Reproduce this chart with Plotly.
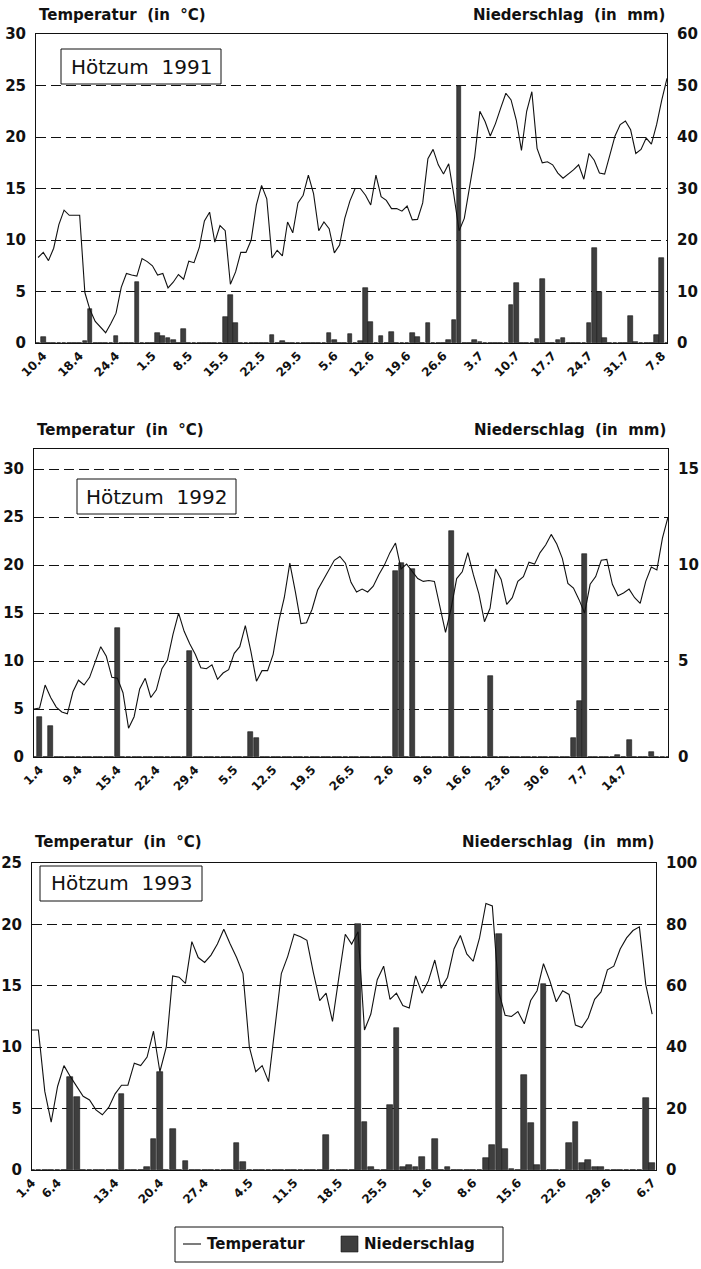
import plotly.graph_objects as go

# ---------------- data ----------------
ticks91 = ["10.4", "18.4", "24.4", "1.5", "8.5", "15.5", "22.5", "29.5", "5.6",
           "12.6", "19.6", "26.6", "3.7", "10.7", "17.7", "24.7", "31.7", "7.8"]
ticks92 = ["1.4", "9.4", "15.4", "22.4", "29.4", "5.5", "12.5", "19.5", "26.5",
           "2.6", "9.6", "16.6", "23.6", "30.6", "7.7", "14.7"]
ticks93 = ["1.4", "6.4", "13.4", "20.4", "27.4", "4.5", "11.5", "18.5", "25.5",
           "1.6", "8.6", "15.6", "22.6", "29.6", "6.7"]

# day index of each tick label
tickpos91 = [1, 8, 15, 22, 29, 36, 43, 50, 57, 64, 71, 78, 85, 92, 99, 106, 113, 120]
tickpos92 = [1, 8, 15, 22, 29, 36, 43, 50, 57, 64, 71, 78, 85, 92, 99, 106]
tickpos93 = [0, 4, 13, 20, 27, 34, 41, 48, 55, 62, 69, 76, 83, 90, 97]

# daily mean temperature (°C)
temp91 = [8.3, 8.8, 8.0, 9.2, 11.5, 12.9, 12.4, 12.4, 12.4, 4.9,
          3.2, 2.1, 1.5, 1.0, 1.9, 2.9, 5.4, 6.75, 6.6, 6.5,
          8.2, 7.9, 7.5, 6.6, 6.75, 5.35, 5.9, 6.65, 6.2, 7.95,
          7.8, 9.25, 11.85, 12.7, 9.8, 11.4, 10.9, 5.7, 6.9, 8.8,
          8.8, 10.0, 13.4, 15.3, 14.0, 8.25, 9.0, 8.45, 11.75, 10.7,
          13.6, 14.35, 16.3, 14.5, 10.9, 11.75, 11.1, 8.75, 9.5, 12.1,
          13.8, 15.0, 15.0, 14.35, 13.4, 16.3, 14.2, 13.85, 13.05, 13.05,
          12.8, 13.3, 11.95, 12.0, 13.6, 17.9, 18.8, 17.3, 16.4, 17.4,
          14.35, 10.9, 12.1, 15.3, 18.1, 22.5, 21.5, 20.1, 21.3, 22.8,
          24.25, 23.6, 21.65, 18.7, 22.5, 24.4, 18.9, 17.5, 17.6, 17.3,
          16.5, 16.0, 16.4, 16.8, 17.3, 15.9, 18.4, 17.75, 16.5, 16.4,
          18.25, 20.1, 21.2, 21.55, 20.7, 18.4, 18.8, 19.9, 19.3, 21.2,
          23.6, 25.7]
temp92 = [5.0, 5.1, 7.5, 6.2, 5.2, 4.7, 4.5, 6.8, 8.0, 7.5,
          8.3, 10.0, 11.5, 10.5, 8.3, 8.2, 6.7, 3.0, 4.2, 7.1,
          8.2, 6.2, 7.0, 9.2, 10.1, 12.8, 15.0, 13.1, 11.8, 10.7,
          9.3, 9.2, 9.6, 8.1, 8.75, 9.1, 10.8, 11.5, 13.7, 11.0,
          7.9, 9.0, 9.0, 10.7, 14.1, 16.6, 20.2, 17.2, 13.9, 14.0,
          15.4, 17.4, 18.4, 19.5, 20.5, 20.9, 20.2, 18.2, 17.2, 17.5,
          17.2, 17.8, 19.0, 20.0, 21.3, 22.3, 19.6, 20.1, 19.4, 18.6,
          18.3, 18.4, 18.3, 15.8, 13.0, 15.5, 18.6, 19.3, 21.3, 19.0,
          17.0, 14.1, 15.5, 19.6, 18.5, 15.9, 16.6, 18.3, 18.8, 20.3,
          20.1, 21.3, 22.1, 23.2, 22.2, 20.7, 18.1, 17.6, 16.4, 15.0,
          18.0, 18.8, 20.5, 20.6, 18.0, 16.8, 17.1, 17.5, 16.6, 16.0,
          18.3, 19.8, 19.5, 22.8, 25.0]
temp93 = [11.4, 11.4, 6.4, 3.9, 6.8, 8.5, 7.6, 6.8, 6.0, 5.7,
          4.9, 4.5, 5.1, 6.2, 6.9, 6.9, 8.7, 8.5, 9.2, 11.3,
          8.0, 10.0, 15.8, 15.7, 15.2, 18.6, 17.3, 16.9, 17.5, 18.4,
          19.6, 18.4, 17.3, 16.0, 10.0, 8.0, 8.5, 7.2, 11.4, 16.0,
          17.4, 19.2, 19.0, 18.7, 16.1, 13.8, 14.4, 12.1, 15.7, 19.2,
          18.4, 19.4, 11.4, 12.7, 15.5, 16.6, 13.9, 14.4, 13.4, 13.2,
          15.8, 14.4, 15.4, 17.1, 14.8, 15.7, 18.0, 19.1, 17.6, 17.0,
          18.9, 21.7, 21.5, 14.5, 12.6, 12.5, 12.9, 11.9, 13.8, 14.6,
          16.8, 15.4, 13.7, 14.6, 14.3, 11.8, 11.6, 12.4, 13.9, 14.5,
          16.3, 16.6, 18.0, 18.9, 19.5, 19.8, 15.1, 12.7]

# daily precipitation (mm)
rain91 = [0, 1.1, 0, 0, 0, 0, 0, 0, 0, 0.3,
          6.7, 0, 0, 0, 0, 1.4, 0, 0, 0, 11.9,
          0, 0, 0, 1.9, 1.3, 0.9, 0.5, 0, 2.75, 0,
          0, 0, 0, 0, 0, 0, 5.1, 9.35, 3.9, 0,
          0, 0, 0, 0, 0, 1.55, 0, 0.45, 0, 0,
          0, 0, 0, 0, 0, 0, 1.95, 0.65, 0, 0,
          1.7, 0, 0.45, 10.7, 4.0, 0, 1.4, 0, 2.1, 0,
          0, 0, 1.9, 1.1, 0, 3.9, 0, 0, 0, 0.6,
          4.5, 50.0, 0, 0, 0.6, 0.25, 0, 0, 0, 0,
          0, 7.3, 11.7, 0, 0, 0, 0.8, 12.5, 0, 0,
          0.6, 1.0, 0, 0, 0, 0, 3.8, 18.5, 10.0, 0.9,
          0, 0, 0, 0, 5.3, 0.1, 0, 0, 0, 1.55,
          16.6, 0]
rain92 = [0, 2.1, 0, 1.6, 0, 0, 0, 0, 0, 0,
          0, 0, 0, 0, 0, 6.7, 0, 0, 0, 0,
          0, 0, 0, 0, 0, 0, 0, 0, 5.5, 0,
          0, 0, 0, 0, 0, 0, 0, 0, 0, 1.3,
          1.0, 0, 0, 0, 0, 0, 0, 0, 0, 0,
          0, 0, 0, 0, 0, 0, 0, 0, 0, 0,
          0, 0, 0, 0, 0, 9.7, 10.1, 0, 9.8, 0,
          0, 0, 0, 0, 0, 11.8, 0, 0, 0, 0,
          0, 0, 4.2, 0, 0, 0, 0, 0, 0, 0,
          0, 0, 0, 0, 0, 0, 0, 1.0, 2.9, 10.6,
          0, 0, 0, 0, 0, 0.12, 0, 0.9, 0, 0,
          0, 0.25, 0, 0, 0]
rain93 = [0, 0, 0, 0, 0, 0, 30.2, 23.9, 0, 0,
          0, 0, 0, 0, 24.9, 0, 0, 0, 1.1, 10.0,
          31.8, 0, 13.2, 0, 3.0, 0, 0, 0, 0, 0,
          0, 0, 8.7, 2.7, 0, 0, 0, 0, 0, 0,
          0, 0, 0, 0, 0, 0, 11.4, 0, 0, 0,
          0, 80.0, 15.7, 0.9, 0, 0, 21.1, 46.1, 1.1, 1.6,
          1.1, 4.1, 0, 10.0, 0, 1.1, 0, 0, 0, 0,
          0, 3.8, 8.1, 77.0, 7.0, 0.2, 0, 30.9, 15.2, 1.6,
          60.7, 0, 0, 0, 8.7, 15.7, 2.2, 3.3, 1.1, 1.1,
          0, 0, 0, 0, 0, 0, 23.6, 2.2]

# ---------------- layout helpers ----------------
W, H = 701, 1269
SANS = "DejaVu Sans, Verdana, sans-serif"
INK = "#111111"
BAR = "#3e3e3e"
SP = "\u00a0\u00a0"   # wide word gap as in the printed figure


def px_x(v):
    return v / W


def px_y(v):
    return 1 - v / H


panels = [
    dict(year="1991", t=temp91, r=rain91, ticks=ticks91, pos=tickpos91,
         xr=[-0.4, 121], tr=[0, 30], rr=[0, 60], rd=10,
         box=(36, 667, 34, 343), title_y=15, label=(61, 221, 49, 84)),
    dict(year="1992", t=temp92, r=rain92, ticks=ticks92, pos=tickpos92,
         xr=[0, 114], tr=[0, 32.1], rr=[0, 16.05], rd=5,
         box=(34, 668, 449, 757), title_y=430, label=(77, 236, 479, 514)),
    dict(year="1993", t=temp93, r=rain93, ticks=ticks93, pos=tickpos93,
         xr=[0, 97.6], tr=[0, 25], rr=[0, 100], rd=20,
         box=(32, 656, 863, 1170), title_y=842, label=(40, 202, 866, 901)),
]

fig = go.Figure()
layout = dict(
    template="none",
    width=W, height=H, autosize=False,
    margin=dict(l=0, r=0, t=0, b=0, pad=0),
    paper_bgcolor="white", plot_bgcolor="white",
    font=dict(family=SANS, color=INK),
    bargap=0, barmode="overlay", showlegend=False,
    annotations=[], shapes=[],
)

xtick_font = dict(family=SANS, size=12, color=INK, weight="bold")
ytick_font = dict(family=SANS, size=15, color=INK, weight="bold")
title_font = dict(family=SANS, size=15, color=INK, weight="bold")

for k, p in enumerate(panels):
    n = k + 1
    xa = "x" if n == 1 else f"x{n}"
    ya_r = "y" if n == 1 else f"y{2 * n - 1}"     # precipitation (right)
    ya_t = f"y{2 * n}"                             # temperature (left, overlay)
    left, right, top, bottom = p["box"]

    fig.add_trace(go.Bar(
        x=list(range(len(p["r"]))), y=p["r"], xaxis=xa, yaxis=ya_r,
        width=0.9, marker=dict(color=BAR, line=dict(color="#151515", width=0.6)),
        name="Niederschlag"))
    fig.add_trace(go.Scatter(
        x=list(range(len(p["t"]))), y=p["t"], xaxis=xa, yaxis=ya_t, mode="lines",
        line=dict(color=INK, width=1.1), name="Temperatur"))

    xkey = "xaxis" if n == 1 else f"xaxis{n}"
    yrkey = "yaxis" if n == 1 else f"yaxis{2 * n - 1}"
    ytkey = f"yaxis{2 * n}"

    layout[xkey] = dict(
        domain=[px_x(left), px_x(right)], anchor=ya_r, range=p["xr"], automargin=False,
        tickmode="array", tickvals=p["pos"], ticktext=p["ticks"], tickangle=-45,
        tickfont=xtick_font, ticks="", showgrid=False, zeroline=False,
        showline=True, linecolor=INK, linewidth=1, mirror=True)
    layout[yrkey] = dict(
        domain=[px_y(bottom), px_y(top)], anchor=xa, side="right", automargin=False,
        range=p["rr"], dtick=p["rd"], tick0=0, tickfont=ytick_font,
        ticks="", ticklabelstandoff=6, showgrid=False, zeroline=False,
        showline=True, linecolor=INK, linewidth=1)
    layout[ytkey] = dict(
        overlaying=ya_r, anchor=xa, side="left", automargin=False,
        range=p["tr"], dtick=5, tick0=0, tickfont=ytick_font,
        ticks="", ticklabelstandoff=6, showgrid=True, gridcolor=INK, gridwidth=1,
        griddash="10px,5px", zeroline=False, showline=True, linecolor=INK, linewidth=1)

    layout["annotations"] += [
        dict(xref="paper", yref="paper", x=px_x(left + 1), y=px_y(p["title_y"]),
             xanchor="left", yanchor="middle", showarrow=False,
             text=f"Temperatur{SP}(in{SP}°C)", font=title_font),
        dict(xref="paper", yref="paper", x=px_x(right), y=px_y(p["title_y"]),
             xanchor="right", yanchor="middle", showarrow=False,
             text=f"Niederschlag{SP}(in{SP}mm)", font=title_font),
    ]
    lx0, lx1, ly0, ly1 = p["label"]
    layout["shapes"].append(dict(
        type="rect", xref="paper", yref="paper",
        x0=px_x(lx0), x1=px_x(lx1), y0=px_y(ly1), y1=px_y(ly0),
        line=dict(color=INK, width=1), fillcolor="white", layer="above"))
    layout["annotations"].append(dict(
        xref="paper", yref="paper", x=px_x((lx0 + lx1) / 2), y=px_y((ly0 + ly1) / 2),
        xanchor="center", yanchor="middle", showarrow=False,
        text=f"Hötzum{SP}{p['year']}", font=dict(family=SANS, size=20, color=INK)))

# key below the last panel
leg_font = dict(family=SANS, size=15, color=INK, weight="bold")
layout["shapes"] += [
    dict(type="rect", xref="paper", yref="paper",
         x0=px_x(175), x1=px_x(503), y0=px_y(1262), y1=px_y(1227),
         line=dict(color=INK, width=1), fillcolor="white"),
    dict(type="line", xref="paper", yref="paper",
         x0=px_x(183), x1=px_x(201), y0=px_y(1244), y1=px_y(1244),
         line=dict(color=INK, width=1.1)),
    dict(type="rect", xref="paper", yref="paper",
         x0=px_x(341), x1=px_x(358), y0=px_y(1252), y1=px_y(1236),
         line=dict(color="#151515", width=0.6), fillcolor=BAR),
]
layout["annotations"] += [
    dict(xref="paper", yref="paper", x=px_x(205), y=px_y(1244),
         xanchor="left", yanchor="middle", showarrow=False,
         text="Temperatur", font=leg_font),
    dict(xref="paper", yref="paper", x=px_x(362), y=px_y(1244),
         xanchor="left", yanchor="middle", showarrow=False,
         text="Niederschlag", font=leg_font),
]

fig.update_layout(**layout)
fig.write_html("out.html")
